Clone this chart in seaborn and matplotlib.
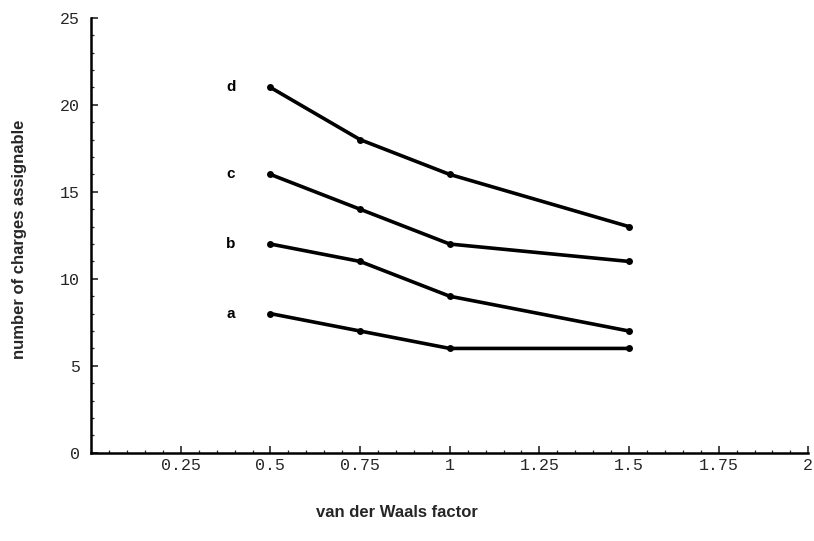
import numpy as np
import pandas as pd
import matplotlib
matplotlib.use("Agg")
import matplotlib.pyplot as plt
import seaborn as sns
from matplotlib.ticker import MultipleLocator, FixedLocator

x_vals = [0.5, 0.75, 1.0, 1.5]
series_a = [8, 7, 6, 6]
series_b = [12, 11, 9, 7]
series_c = [16, 14, 12, 11]
series_d = [21, 18, 16, 13]
series_names = ["a", "b", "c", "d"]
x_ticks = [0.25, 0.5, 0.75, 1, 1.25, 1.5, 1.75, 2]
x_tick_labels = ["0.25", "0.5", "0.75", "1", "1.25", "1.5", "1.75", "2"]
y_ticks = [0, 5, 10, 15, 20, 25]

rows = []
for name, vals in zip(series_names, [series_a, series_b, series_c, series_d]):
    for xv, yv in zip(x_vals, vals):
        rows.append({"vdw": xv, "charges": yv, "series": name})
df = pd.DataFrame(rows)

sns.set_theme(style="ticks")
plt.rcParams["font.family"] = ["Liberation Sans", "DejaVu Sans"]

fig = plt.figure(figsize=(8.14, 5.41), dpi=100)
ax = fig.add_axes([0.112, 0.163, 0.881, 0.804])

sns.lineplot(data=df, x="vdw", y="charges", hue="series",
             palette=["black"] * 4, linewidth=2.6, marker="o",
             markersize=5, markeredgewidth=0, legend=False, ax=ax)

for name, vals in zip(series_names, [series_a, series_b, series_c, series_d]):
    ax.text(0.39, vals[0], name, ha="center", va="center",
            fontsize=11, fontweight="bold", color="black")

ax.set_xlim(0, 2)
ax.set_ylim(0, 25)
ax.xaxis.set_major_locator(FixedLocator(x_ticks))
ax.set_xticklabels(x_tick_labels)
ax.xaxis.set_minor_locator(MultipleLocator(0.05))
ax.yaxis.set_major_locator(FixedLocator(y_ticks))
ax.yaxis.set_minor_locator(MultipleLocator(1))

ax.tick_params(which="major", direction="in", length=5, width=1.2,
               labelsize=12)
ax.tick_params(axis="y", which="major", pad=8)
ax.tick_params(axis="x", which="major", pad=4)
ax.tick_params(which="minor", direction="in", length=2.5, width=0.9)
for lbl in ax.get_xticklabels() + ax.get_yticklabels():
    lbl.set_family(["Liberation Mono", "DejaVu Sans Mono"])

for side in ["top", "right"]:
    ax.spines[side].set_visible(False)
for side in ["left", "bottom"]:
    ax.spines[side].set_linewidth(1.8)
    ax.spines[side].set_color("black")

ax.set_xlabel("van der Waals factor", fontsize=12, fontweight="bold")
ax.set_ylabel("number of charges assignable", fontsize=12, fontweight="bold")
ax.xaxis.set_label_coords(0.427, -0.12)
ax.yaxis.set_label_coords(-0.09, 0.49)

fig.savefig("out.png", dpi=100)
